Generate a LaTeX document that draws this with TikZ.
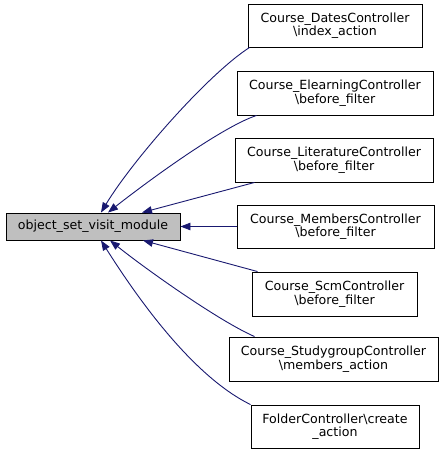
\documentclass[tikz,border=0pt]{standalone}
\usepackage{fontspec}
\setmainfont{DejaVu Sans}
\usetikzlibrary{arrows.meta}
\definecolor{edgeblue}{RGB}{25,25,112}
\definecolor{mainfill}{RGB}{191,191,191}
\tikzset{
  box/.style={draw=black, line width=0.9pt, fill=white, align=center, inner sep=0pt,
    font=\fontsize{12.6}{13.6}\selectfont},
  mainbox/.style={box, fill=mainfill},
  edge/.style={draw=edgeblue, line width=0.9pt, -{Triangle[length=10pt,width=7.5pt]}}
}
\begin{document}
\begin{tikzpicture}[x=1pt,y=-1pt]
\useasboundingbox (0,0) rectangle (445,453);
\node[mainbox, minimum width=174pt, minimum height=27pt] (main) at (93,226.5) {object\_set\_visit\_module};
\node[box, minimum width=174pt, minimum height=43pt] (d1) at (335,25.5) {Course\_DatesController\\\textbackslash index\_action};
\node[box, minimum width=196pt, minimum height=44pt] (d2) at (335,93) {Course\_ElearningController\\\textbackslash before\_filter};
\node[box, minimum width=198pt, minimum height=44pt] (d3) at (334,160) {Course\_LiteratureController\\\textbackslash before\_filter};
\node[box, minimum width=197pt, minimum height=43pt] (d4) at (335.5,226.5) {Course\_MembersController\\\textbackslash before\_filter};
\node[box, minimum width=165pt, minimum height=44pt] (d5) at (334.5,294) {Course\_ScmController\\\textbackslash before\_filter};
\node[box, minimum width=209pt, minimum height=44pt] (d6) at (333.5,359) {Course\_StudygroupController\\\textbackslash members\_action};
\node[box, minimum width=168pt, minimum height=43pt] (d7) at (335,426.5) {FolderController\textbackslash create\\\_action};

\draw[edge] ([xshift=2pt]d1.south west) .. controls (207.5,74.5) and (132,161) .. ([xshift=8pt]main.north);
\draw[edge] ([xshift=20pt]d2.south west) .. controls (219,128) and (139,188) .. ([xshift=15pt]main.north);
\draw[edge] ([xshift=20pt]d3.south west) -- ([xshift=49pt]main.north);
\draw[edge] (d4.west) -- (main.east);
\draw[edge] ([xshift=6pt]d5.north west) -- ([xshift=50pt]main.south);
\draw[edge] ([xshift=26pt]d6.north west) .. controls (219,321) and (147,270) .. ([xshift=17pt]main.south);
\draw[edge] (d7.north west) .. controls (190,375) and (133,291) .. ([xshift=8pt]main.south);
\end{tikzpicture}
\end{document}
